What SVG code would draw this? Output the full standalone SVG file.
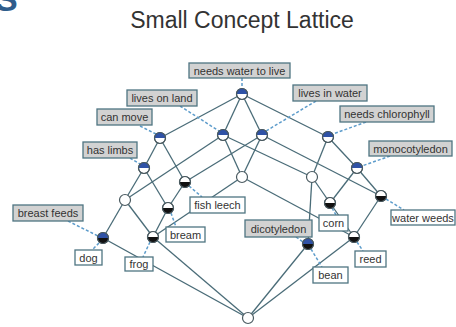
<svg xmlns="http://www.w3.org/2000/svg" width="456" height="327" viewBox="0 0 456 327">
<style>
.edge{stroke:#4a6c78;stroke-width:1.3;fill:none}
.dash{stroke:#5d9ccb;stroke-width:1.5;stroke-dasharray:3 2;fill:none}
.lbl rect{stroke:#4f7582;stroke-width:1.3}
.att rect{fill:#d2d2d2}
.obj rect{fill:#ffffff}
.lbl text{font-family:"Liberation Sans",Arial,sans-serif;font-size:11px;fill:#333;text-anchor:middle}
.ring{fill:#fff;stroke:#4a5a60;stroke-width:1.2}
.top{fill:#2f52a6}
.bot{fill:#111}
</style>
<defs>
<path id="tophalf" class="top" d="M-5.5,0 A5.5,5.5 0 0 1 5.5,0 Z"/>
<path id="bothalf" class="bot" d="M-5.5,0 A5.5,5.5 0 0 0 5.5,0 Z"/>
<circle id="ring" class="ring" r="5.5"/>
<circle id="ringo" r="5.5" fill="none" stroke="#4a5a60" stroke-width="1.2"/>
</defs>
<rect width="456" height="327" fill="#fff"/>
<text x="-5" y="11" font-family="Liberation Sans,Arial,sans-serif" font-weight="bold" font-size="34" fill="#2f5d8c">S</text>
<text x="242" y="28" font-family="Liberation Sans,Arial,sans-serif" font-size="23" fill="#333" text-anchor="middle">Small Concept Lattice</text>
<g id="connectors">
<line class="edge" x1="242" y1="94" x2="160" y2="138"/>
<line class="edge" x1="242" y1="94" x2="223" y2="135"/>
<line class="edge" x1="242" y1="94" x2="262" y2="135"/>
<line class="edge" x1="242" y1="94" x2="328" y2="137"/>
<line class="edge" x1="160" y1="138" x2="144" y2="168"/>
<line class="edge" x1="160" y1="138" x2="185" y2="182"/>
<line class="edge" x1="223" y1="135" x2="125" y2="200"/>
<line class="edge" x1="223" y1="135" x2="242" y2="177"/>
<line class="edge" x1="223" y1="135" x2="312" y2="177"/>
<line class="edge" x1="262" y1="135" x2="185" y2="182"/>
<line class="edge" x1="262" y1="135" x2="242" y2="177"/>
<line class="edge" x1="262" y1="135" x2="381" y2="196"/>
<line class="edge" x1="328" y1="137" x2="357" y2="168"/>
<line class="edge" x1="328" y1="137" x2="312" y2="177"/>
<line class="edge" x1="144" y1="168" x2="125" y2="200"/>
<line class="edge" x1="144" y1="168" x2="168" y2="208"/>
<line class="edge" x1="185" y1="182" x2="168" y2="208"/>
<line class="edge" x1="242" y1="177" x2="153" y2="237"/>
<line class="edge" x1="242" y1="177" x2="354" y2="237"/>
<line class="edge" x1="312" y1="177" x2="330" y2="203"/>
<line class="edge" x1="312" y1="177" x2="308" y2="244"/>
<line class="edge" x1="357" y1="168" x2="330" y2="203"/>
<line class="edge" x1="357" y1="168" x2="381" y2="196"/>
<line class="edge" x1="125" y1="200" x2="153" y2="237"/>
<line class="edge" x1="125" y1="200" x2="103" y2="238"/>
<line class="edge" x1="168" y1="208" x2="153" y2="237"/>
<line class="edge" x1="330" y1="203" x2="354" y2="237"/>
<line class="edge" x1="381" y1="196" x2="354" y2="237"/>
<line class="edge" x1="103" y1="238" x2="248" y2="318"/>
<line class="edge" x1="153" y1="237" x2="248" y2="318"/>
<line class="edge" x1="354" y1="237" x2="248" y2="318"/>
<line class="edge" x1="308" y1="244" x2="248" y2="318"/>
<line class="dash" x1="242" y1="78" x2="242" y2="89"/>
<line class="dash" x1="180" y1="106" x2="219" y2="131"/>
<line class="dash" x1="140" y1="126" x2="156" y2="134"/>
<line class="dash" x1="130" y1="158" x2="140" y2="164"/>
<line class="dash" x1="316" y1="101" x2="266" y2="131"/>
<line class="dash" x1="366" y1="122" x2="333" y2="134"/>
<line class="dash" x1="390" y1="156" x2="362" y2="166"/>
<line class="dash" x1="68" y1="221" x2="98" y2="236"/>
<line class="dash" x1="296" y1="237" x2="303" y2="242"/>
<line class="dash" x1="189" y1="186" x2="202" y2="197"/>
<line class="dash" x1="171" y1="213" x2="176" y2="227"/>
<line class="dash" x1="150" y1="242" x2="143" y2="257"/>
<line class="dash" x1="99" y1="243" x2="92" y2="250"/>
<line class="dash" x1="332" y1="208" x2="336" y2="215"/>
<line class="dash" x1="386" y1="199" x2="404" y2="210"/>
<line class="dash" x1="357" y1="242" x2="363" y2="251"/>
<line class="dash" x1="311" y1="249" x2="322" y2="267"/>
</g>
<g id="n-top" transform="translate(242,94)"><use href="#ring"/><use href="#tophalf"/><use href="#ringo"/></g>
<g id="n-canmove" transform="translate(160,138)"><use href="#ring"/><use href="#tophalf"/><use href="#ringo"/></g>
<g id="n-livesonland" transform="translate(223,135)"><use href="#ring"/><use href="#tophalf"/><use href="#ringo"/></g>
<g id="n-livesinwater" transform="translate(262,135)"><use href="#ring"/><use href="#tophalf"/><use href="#ringo"/></g>
<g id="n-chlorophyll" transform="translate(328,137)"><use href="#ring"/><use href="#tophalf"/><use href="#ringo"/></g>
<g id="n-haslimbs" transform="translate(144,168)"><use href="#ring"/><use href="#tophalf"/><use href="#ringo"/></g>
<g id="n-fishleech" transform="translate(185,182)"><use href="#ring"/><use href="#bothalf"/><use href="#ringo"/></g>
<g id="n-c1" transform="translate(242,177)"><use href="#ring"/></g>
<g id="n-c2" transform="translate(312,177)"><use href="#ring"/></g>
<g id="n-monocot" transform="translate(357,168)"><use href="#ring"/><use href="#tophalf"/><use href="#ringo"/></g>
<g id="n-c3" transform="translate(125,200)"><use href="#ring"/></g>
<g id="n-bream" transform="translate(168,208)"><use href="#ring"/><use href="#bothalf"/><use href="#ringo"/></g>
<g id="n-corn" transform="translate(330,203)"><use href="#ring"/><use href="#bothalf"/><use href="#ringo"/></g>
<g id="n-waterweeds" transform="translate(381,196)"><use href="#ring"/><use href="#bothalf"/><use href="#ringo"/></g>
<g id="n-dog" transform="translate(103,238)"><use href="#ring"/><use href="#tophalf"/><use href="#bothalf"/><use href="#ringo"/></g>
<g id="n-frog" transform="translate(153,237)"><use href="#ring"/><use href="#bothalf"/><use href="#ringo"/></g>
<g id="n-reed" transform="translate(354,237)"><use href="#ring"/><use href="#bothalf"/><use href="#ringo"/></g>
<g id="n-bean" transform="translate(308,244)"><use href="#ring"/><use href="#tophalf"/><use href="#bothalf"/><use href="#ringo"/></g>
<g id="n-bottom" transform="translate(248,318)"><use href="#ring"/></g>
<g id="l-needswater" class="lbl att"><rect x="189" y="63" width="101" height="15"/><text x="239.5" y="74.5">needs water to live</text></g>
<g id="l-livesonland" class="lbl att"><rect x="127" y="90" width="70" height="16"/><text x="162" y="102">lives on land</text></g>
<g id="l-canmove" class="lbl att"><rect x="97" y="109" width="55" height="16"/><text x="124.5" y="121">can move</text></g>
<g id="l-haslimbs" class="lbl att"><rect x="83" y="142" width="54" height="16"/><text x="110" y="154">has limbs</text></g>
<g id="l-livesinwater" class="lbl att"><rect x="293" y="85" width="74" height="16"/><text x="330" y="97">lives in water</text></g>
<g id="l-chlorophyll" class="lbl att"><rect x="340" y="106" width="94" height="16"/><text x="387" y="118">needs chlorophyll</text></g>
<g id="l-monocot" class="lbl att"><rect x="369" y="141" width="83" height="15"/><text x="410.5" y="152.5">monocotyledon</text></g>
<g id="l-breastfeeds" class="lbl att"><rect x="13" y="205" width="70" height="16"/><text x="48" y="217">breast feeds</text></g>
<g id="l-dicot" class="lbl att"><rect x="245" y="220" width="67" height="17"/><text x="278.5" y="232.5">dicotyledon</text></g>
<g id="l-fishleech" class="lbl obj"><rect x="190" y="197" width="55" height="16"/><text x="217.5" y="209">fish leech</text></g>
<g id="l-bream" class="lbl obj"><rect x="166" y="227" width="39" height="15"/><text x="185.5" y="238.5">bream</text></g>
<g id="l-frog" class="lbl obj"><rect x="125" y="257" width="28" height="14"/><text x="139" y="268">frog</text></g>
<g id="l-dog" class="lbl obj"><rect x="75" y="250" width="27" height="15"/><text x="88.5" y="261.5">dog</text></g>
<g id="l-corn" class="lbl obj"><rect x="319" y="215" width="29" height="16"/><text x="333.5" y="227">corn</text></g>
<g id="l-waterweeds" class="lbl obj"><rect x="391" y="210" width="64" height="15"/><text x="423" y="221.5">water weeds</text></g>
<g id="l-reed" class="lbl obj"><rect x="355" y="251" width="31" height="16"/><text x="370.5" y="263">reed</text></g>
<g id="l-bean" class="lbl obj"><rect x="313" y="267" width="35" height="16"/><text x="330.5" y="279">bean</text></g>
</svg>
